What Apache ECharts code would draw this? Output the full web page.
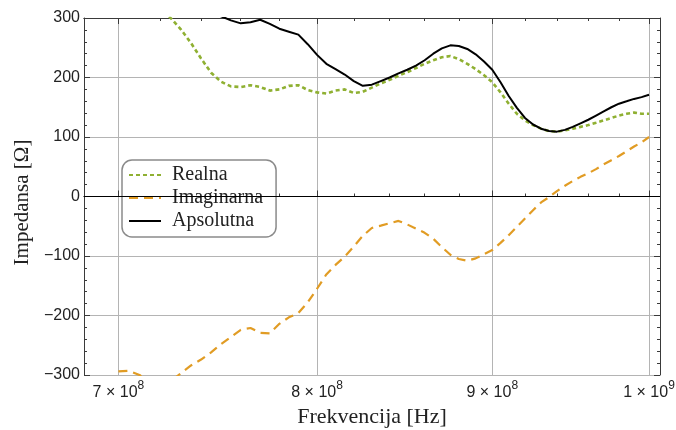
<!DOCTYPE html>
<html>
<head>
<meta charset="utf-8">
<title>Impedansa</title>
<script src="https://cdn.jsdelivr.net/npm/echarts@6/dist/echarts.min.js"></script>
<style>
  html, body { margin: 0; padding: 0; background: #fff; }
  #chart { width: 676px; height: 430px; }
</style>
</head>
<body>
<div id="chart"></div>
<script>
// Frequency samples [Hz]
const freq = [
  7.00e8, 7.05e8, 7.10e8, 7.15e8, 7.20e8, 7.25e8, 7.30e8, 7.35e8, 7.40e8, 7.45e8,
  7.50e8, 7.55e8, 7.60e8, 7.65e8, 7.70e8, 7.75e8, 7.80e8, 7.85e8, 7.90e8, 7.95e8,
  8.00e8, 8.05e8, 8.10e8, 8.15e8, 8.20e8, 8.25e8, 8.30e8, 8.35e8, 8.40e8, 8.45e8,
  8.50e8, 8.55e8, 8.60e8, 8.65e8, 8.70e8, 8.75e8, 8.80e8, 8.85e8, 8.90e8, 8.95e8,
  9.00e8, 9.05e8, 9.10e8, 9.15e8, 9.20e8, 9.25e8, 9.30e8, 9.35e8, 9.40e8, 9.45e8,
  9.50e8, 9.55e8, 9.60e8, 9.65e8, 9.70e8, 9.75e8, 9.80e8, 9.85e8, 9.90e8, 9.95e8,
  10.00e8
];

// Real part of the impedance [Ohm]
const realna = [
  365, 352, 340, 328, 314, 300, 281, 258, 232, 208,
  193, 185, 184, 187, 184, 178, 180, 186, 187, 179,
  175, 173, 178, 180, 174, 176, 183, 190, 196, 203,
  209, 216, 223, 229, 234, 236, 231, 223, 214, 204,
  192, 175, 156, 139, 128, 120, 114, 110, 109, 111,
  114, 117, 120, 124, 128, 132, 136, 139, 141, 139,
  139
];

// Imaginary part of the impedance [Ohm]
const imaginarna = [
  -294, -293, -300, -312, -318, -311, -297, -284, -274, -262,
  -248, -236, -224, -221, -229, -230, -214, -203, -196, -178,
  -155, -131, -115, -101, -84, -66, -53, -49, -45, -41,
  -47, -54, -61, -71, -85, -98, -105, -108, -104, -97,
  -90, -78, -65, -51, -37, -23, -10, -1, 9, 18,
  26, 33, 39, 46, 54, 61, 68, 76, 84, 91,
  100
];

// Magnitude of the impedance [Ohm]
const apsolutna = [
  345, 340, 335, 330, 325, 320, 316, 312, 309, 306,
  303, 296, 291, 293, 297, 290, 282, 277, 272, 256,
  238, 223, 214, 205, 194, 186, 188, 194, 200, 207,
  213, 220, 229, 240, 249, 254, 253, 248, 239, 227,
  213, 192, 169, 149, 132, 121, 114, 110, 109, 112,
  117, 123, 129, 136, 143, 150, 156, 160, 164, 167,
  171
];

// Axis ticks (log frequency axis)
const xMajorTicks = [7e8, 8e8, 9e8, 1e9];
const xTickMantissa = ['7', '8', '9', '1'];
const xTickExponent = ['8', '8', '8', '9'];
const xMinorTicks = [7.2e8, 7.4e8, 7.6e8, 7.8e8, 8.2e8, 8.4e8, 8.6e8, 8.8e8,
                     9.2e8, 9.4e8, 9.6e8, 9.8e8];
const xRange = [6.84e8, 1.0074e9];
const yTicks = [-300, -200, -100, 0, 100, 200, 300];

const seriesNames = ['Realna', 'Imaginarna', 'Apsolutna'];

const lg = Math.log10;
const majorLog = xMajorTicks.map(lg);
const minorLog = xMinorTicks.map(lg);

const frameColor = '#3a3a3a';
const textColor = '#222';

function xLabel(v) {
  let idx = 0, best = Infinity;
  majorLog.forEach((m, i) => { const d = Math.abs(m - v); if (d < best) { best = d; idx = i; } });
  return '{m|' + xTickMantissa[idx] + ' \u00d7 10}{e|' + xTickExponent[idx] + '}';
}

function xAxisBase(position, ticks, tickLen, showLabels, showGrid) {
  return {
    type: 'value',
    position: position,
    min: lg(xRange[0]),
    max: lg(xRange[1]),
    axisLine: { show: true, lineStyle: { color: frameColor, width: 1 } },
    axisTick: { show: true, inside: true, length: tickLen, customValues: ticks,
                lineStyle: { color: frameColor, width: 1 } },
    minorTick: { show: false },
    axisLabel: showLabels ? {
      show: true,
      customValues: majorLog,
      margin: 5,
      formatter: xLabel,
      rich: {
        m: { fontFamily: 'Liberation Sans', fontSize: 16, color: textColor, lineHeight: 21, verticalAlign: 'bottom' },
        e: { fontFamily: 'Liberation Sans', fontSize: 12, color: textColor, lineHeight: 13, verticalAlign: 'top' }
      }
    } : { show: false },
    splitLine: { show: showGrid, lineStyle: { color: '#b4b4b4', width: 1 } }
  };
}

const xAxes = [
  Object.assign(xAxisBase('bottom', majorLog, 6, true, true), {
    name: 'Frekvencija [Hz]',
    nameLocation: 'middle',
    nameGap: 25,
    nameTextStyle: { fontFamily: 'Liberation Serif', fontSize: 22, color: textColor }
  }),
  xAxisBase('bottom', minorLog, 3, false, false),
  xAxisBase('top', majorLog, 6, false, false),
  xAxisBase('top', minorLog, 3, false, false)
];

function yAxisBase(position, showLabels) {
  return {
    type: 'value',
    position: position,
    min: yTicks[0],
    max: yTicks[yTicks.length - 1],
    interval: 100,
    axisLine: { show: true, lineStyle: { color: frameColor, width: 1 } },
    axisTick: { show: true, inside: true, length: 6, lineStyle: { color: frameColor } },
    minorTick: { show: true, splitNumber: 5, length: 3, lineStyle: { color: frameColor } },
    axisLabel: showLabels ? {
      show: true,
      margin: 4,
      fontFamily: 'Liberation Sans',
      fontSize: 16,
      color: textColor,
      formatter: v => String(v).replace('-', '\u2212')
    } : { show: false },
    splitLine: { show: showLabels, lineStyle: { color: '#b4b4b4', width: 1 } }
  };
}

const yAxes = [
  Object.assign(yAxisBase('left', true), {
    name: 'Impedansa [\u03a9]',
    nameLocation: 'middle',
    nameGap: 50,
    nameTextStyle: { fontFamily: 'Liberation Serif', fontSize: 21, color: textColor, padding: [0, 12, 0, 0] }
  }),
  yAxisBase('right', false)
];

function toPoints(values) {
  return freq.map((f, i) => [lg(f), values[i]]);
}

const chart = echarts.init(document.getElementById('chart'), null, { renderer: 'canvas' });

chart.setOption({
  backgroundColor: '#fff',
  animation: false,
  grid: { left: 84, right: 16, top: 18, bottom: 55, containLabel: false, outerBoundsMode: 'none' },
  xAxis: xAxes,
  yAxis: yAxes,
  legend: {
    orient: 'vertical',
    left: 122,
    top: 160,
    padding: [5, 13, 6, 6],
    itemWidth: 32,
    itemHeight: 14,
    itemGap: 3,
    backgroundColor: '#fff',
    borderColor: '#8a8a8a',
    borderWidth: 1.5,
    borderRadius: 10,
    itemStyle: { opacity: 0 },
    textStyle: { fontFamily: 'Liberation Serif', fontSize: 20, color: textColor, padding: [0, 0, 0, 6] },
    data: seriesNames
  },
  series: [
    {
      name: seriesNames[0],
      type: 'line',
      data: toPoints(realna),
      symbol: 'none',
      clip: true,
      color: '#8fb032',
      lineStyle: { color: '#8fb032', width: 2.6, type: [4, 3] },
      markLine: {
        silent: true,
        symbol: 'none',
        label: { show: false },
        lineStyle: { color: '#000', width: 1, type: 'solid' },
        data: [{ yAxis: 0 }]
      },
      z: 3
    },
    {
      name: seriesNames[1],
      type: 'line',
      data: toPoints(imaginarna),
      symbol: 'none',
      clip: true,
      color: '#e19c24',
      lineStyle: { color: '#e19c24', width: 2.2, type: [9, 6] },
      z: 3
    },
    {
      name: seriesNames[2],
      type: 'line',
      data: toPoints(apsolutna),
      symbol: 'none',
      clip: true,
      color: '#000',
      lineStyle: { color: '#000', width: 2, type: 'solid' },
      z: 3
    }
  ]
});
</script>
</body>
</html>
